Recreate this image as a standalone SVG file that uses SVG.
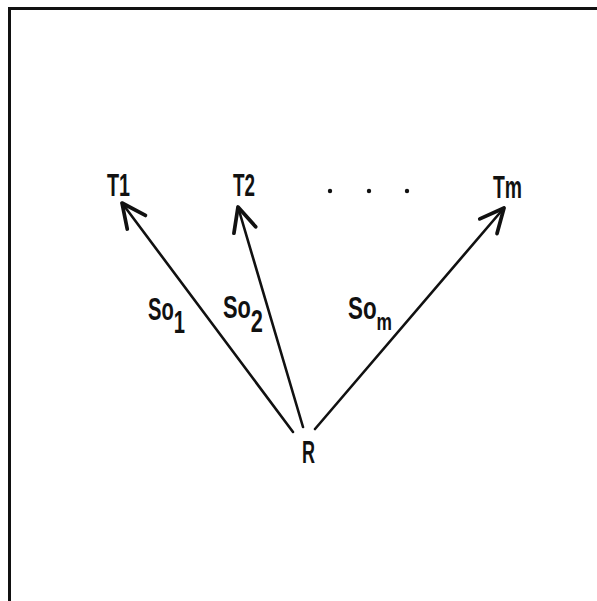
<svg xmlns="http://www.w3.org/2000/svg" width="597" height="601" viewBox="0 0 597 601">
<style>
.t{font-family:"Liberation Sans",Arial,sans-serif;font-size:31px;font-weight:bold;fill:#111;}
.e{stroke:#111;stroke-width:2.6;fill:none;stroke-linecap:round;}
</style>
<defs>
<marker id="ah" markerUnits="userSpaceOnUse" markerWidth="40" markerHeight="40" viewBox="-25 -15 30 30" refX="0" refY="0" orient="auto">
<path d="M-18,-8.5 L0,0 L-18,8.5" fill="none" stroke="#111" stroke-width="2.8" stroke-linecap="round" stroke-linejoin="round"/>
</marker>
</defs>
<rect width="597" height="601" fill="#fff"/>
<g id="frame">
<line x1="8" y1="8.5" x2="597" y2="8.5" stroke="#111" stroke-width="3"/>
<line x1="9.5" y1="7" x2="9.5" y2="601" stroke="#111" stroke-width="3"/>
</g>
<g id="connectors">
<line class="e" x1="293" y1="432" x2="122" y2="203" marker-end="url(#ah)"/>
<line class="e" x1="303" y1="427" x2="238" y2="207" marker-end="url(#ah)"/>
<line class="e" x1="315" y1="429" x2="504" y2="208" marker-end="url(#ah)"/>
</g>
<g id="T1"><text class="t" x="107" y="196" textLength="23" lengthAdjust="spacingAndGlyphs">T1</text></g>
<g id="T2"><text class="t" x="233" y="196" textLength="22" lengthAdjust="spacingAndGlyphs">T2</text></g>
<g id="dots">
<circle cx="330" cy="191" r="2.2" fill="#111"/>
<circle cx="369" cy="191" r="2.2" fill="#111"/>
<circle cx="407" cy="191" r="2.2" fill="#111"/>
</g>
<g id="Tm"><text class="t" x="493" y="198" textLength="29" lengthAdjust="spacingAndGlyphs">Tm</text></g>
<g id="R"><text class="t" x="302" y="463" textLength="13" lengthAdjust="spacingAndGlyphs">R</text></g>
<g id="label-so1">
<text class="t" x="148" y="320" textLength="37" lengthAdjust="spacingAndGlyphs">So<tspan dy="13">1</tspan></text>
</g>
<g id="label-so2">
<text class="t" x="223" y="318" textLength="40" lengthAdjust="spacingAndGlyphs">So<tspan dy="14">2</tspan></text>
</g>
<g id="label-som">
<text class="t" x="348" y="319" textLength="44" lengthAdjust="spacingAndGlyphs">So<tspan dy="11" style="font-size:24px">m</tspan></text>
</g>
</svg>
